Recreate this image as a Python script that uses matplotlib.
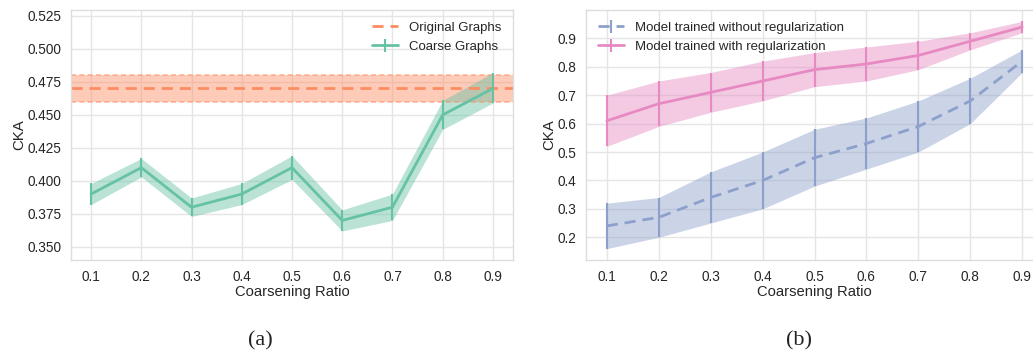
import matplotlib
matplotlib.use("Agg")
import matplotlib.pyplot as plt
import numpy as np
import seaborn as sns

sns.set_theme(style="whitegrid")
plt.rcParams['font.family'] = ['Liberation Sans', 'DejaVu Sans']

ratios = [0.1, 0.2, 0.3, 0.4, 0.5, 0.6, 0.7, 0.8, 0.9]
coarse_mean = [0.39, 0.41, 0.38, 0.39, 0.41, 0.37, 0.38, 0.45, 0.47]
coarse_low = [0.382, 0.403, 0.373, 0.382, 0.401, 0.362, 0.370, 0.439, 0.459]
coarse_high = [0.398, 0.417, 0.387, 0.398, 0.419, 0.378, 0.390, 0.461, 0.482]
orig_mean = 0.47
orig_low = 0.46
orig_high = 0.48

noreg_mean = [0.24, 0.27, 0.34, 0.40, 0.48, 0.53, 0.59, 0.68, 0.82]
noreg_low = [0.16, 0.20, 0.25, 0.30, 0.38, 0.44, 0.50, 0.60, 0.78]
noreg_high = [0.32, 0.34, 0.43, 0.50, 0.58, 0.62, 0.68, 0.76, 0.86]
reg_mean = [0.61, 0.67, 0.71, 0.75, 0.79, 0.81, 0.84, 0.89, 0.94]
reg_low = [0.52, 0.59, 0.64, 0.68, 0.73, 0.75, 0.79, 0.86, 0.92]
reg_high = [0.70, 0.75, 0.78, 0.82, 0.85, 0.87, 0.89, 0.92, 0.96]

green, orange, blue, pink = "#66c2a5", "#fc8d62", "#8da0cb", "#e78ac3"
grid_c = "#e5e5e5"
txt = "#262626"

fig = plt.figure(figsize=(10.33, 3.56), dpi=100)
axa = fig.add_axes([71/1033, 96/356, 442/1033, 250/356])
axb = fig.add_axes([586/1033, 96/356, 457/1033, 250/356])

def style(ax):
    ax.set_facecolor("white")
    ax.grid(True, color=grid_c, lw=1.0)
    for s in ax.spines.values():
        s.set_color("#dddddd")
        s.set_linewidth(1.0)
    ax.tick_params(labelsize=9.8, colors=txt, pad=7, length=0)
    ax.set_xticks(ratios)
    ax.set_xticklabels([str(r) for r in ratios])
    ax.set_xlim(0.06, 0.94)
    ax.set_xlabel("Coarsening Ratio", fontsize=10.6, color=txt, labelpad=1)
    ax.set_ylabel("CKA", fontsize=10.8, color=txt, labelpad=1)

def err_line(ax, x, m, lo, hi, color, ls, label):
    m = np.array(m); lo = np.array(lo); hi = np.array(hi)
    ax.fill_between(x, lo, hi, color=color, alpha=0.45, lw=0)
    ax.errorbar(x, m, yerr=[m - lo, hi - m], color=color, ls=ls, lw=2,
                elinewidth=1.5, capsize=0, label=label)

# (a)
style(axa)
xs = np.array([0.06, 0.94])
axa.fill_between(xs, orig_low, orig_high, color=orange, alpha=0.45, lw=0)
axa.plot(xs, [orig_low]*2, color=orange, alpha=0.6, ls=(0, (3, 2)), lw=1.2)
axa.plot(xs, [orig_high]*2, color=orange, alpha=0.6, ls=(0, (3, 2)), lw=1.2)
axa.plot(xs, [orig_mean]*2, color=orange, ls=(0, (4, 2.5)), lw=2, label="Original Graphs")
err_line(axa, ratios, coarse_mean, coarse_low, coarse_high, green, "-", "Coarse Graphs")
axa.set_ylim(0.340, 0.5295)
axa.set_yticks([0.35, 0.375, 0.4, 0.425, 0.45, 0.475, 0.5, 0.525])
axa.set_yticklabels(["0.350", "0.375", "0.400", "0.425", "0.450", "0.475", "0.500", "0.525"])
axa.legend(loc="upper right", frameon=False, fontsize=9.5, handlelength=2.0,
           labelcolor=txt, borderaxespad=0.5)

# (b)
style(axb)
err_line(axb, ratios, noreg_mean, noreg_low, noreg_high, blue, (0, (4, 2.5)),
         "Model trained without regularization")
err_line(axb, ratios, reg_mean, reg_low, reg_high, pink, "-",
         "Model trained with regularization")
axb.set_ylim(0.12, 1.0)
axb.set_yticks([0.2, 0.3, 0.4, 0.5, 0.6, 0.7, 0.8, 0.9])
axb.legend(loc="upper left", frameon=False, fontsize=9.5, handlelength=2.0,
           labelcolor=txt, borderaxespad=0.5)

fig.text(260/1033, 1 - 341/356, "(a)", ha="center", va="center",
         fontsize=16, family=["Liberation Serif", "DejaVu Serif"], color="#222222")
fig.text(799/1033, 1 - 341/356, "(b)", ha="center", va="center",
         fontsize=16, family=["Liberation Serif", "DejaVu Serif"], color="#222222")

fig.savefig("out.png", dpi=100, facecolor="white")
